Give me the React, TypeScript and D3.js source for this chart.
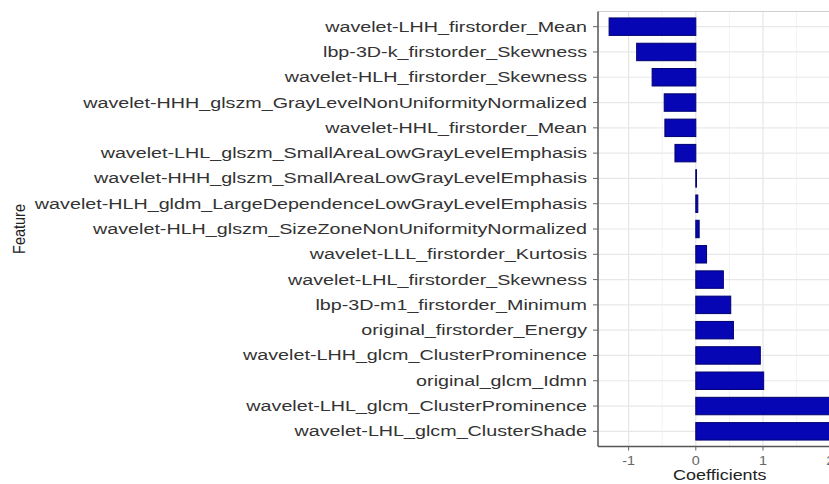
import React from "react";
import * as d3 from "d3";

const features = [
  "wavelet-LHH_firstorder_Mean",
  "lbp-3D-k_firstorder_Skewness",
  "wavelet-HLH_firstorder_Skewness",
  "wavelet-HHH_glszm_GrayLevelNonUniformityNormalized",
  "wavelet-HHL_firstorder_Mean",
  "wavelet-LHL_glszm_SmallAreaLowGrayLevelEmphasis",
  "wavelet-HHH_glszm_SmallAreaLowGrayLevelEmphasis",
  "wavelet-HLH_gldm_LargeDependenceLowGrayLevelEmphasis",
  "wavelet-HLH_glszm_SizeZoneNonUniformityNormalized",
  "wavelet-LLL_firstorder_Kurtosis",
  "wavelet-LHL_firstorder_Skewness",
  "lbp-3D-m1_firstorder_Minimum",
  "original_firstorder_Energy",
  "wavelet-LHH_glcm_ClusterProminence",
  "original_glcm_Idmn",
  "wavelet-LHL_glcm_ClusterProminence",
  "wavelet-LHL_glcm_ClusterShade",
];

const coefficients = [
  -1.29, -0.88, -0.65, -0.47, -0.46, -0.31, 0.01, 0.03, 0.05, 0.16, 0.41,
  0.52, 0.56, 0.96, 1.01, 2.4, 2.6,
];

const xTicks = [-1, 0, 1, 2];
const xMinor = [-0.5, 0.5, 1.5];

const W = 829;
const H = 484;

export default function App() {
  const panelLeft = 598;
  const panelTop = 11.5;
  const panelBottom = 446.5;
  const panelRight = 900;
  const zeroX = 695.8;
  const unit = 67.2;

  const x = d3
    .scaleLinear()
    .domain([0, 1])
    .range([zeroX, zeroX + unit]);

  const y = d3
    .scaleBand<string>()
    .domain(features)
    .range([panelTop, panelBottom])
    .paddingOuter(0.1)
    .paddingInner(0);

  const band = y.bandwidth();
  const barH = band * 0.69;
  const sx = 1.36;
  const font = "'Liberation Sans', Arial, Helvetica, sans-serif";

  return (
    <svg
      width={W}
      height={H}
      style={{ position: "absolute", left: 0, top: 0, background: "#fff" }}
      fontFamily={font}
    >
      <defs>
        <clipPath id="panel">
          <rect x={panelLeft} y={panelTop} width={panelRight - panelLeft} height={panelBottom - panelTop} />
        </clipPath>
      </defs>
      <rect x={panelLeft} y={panelTop} width={panelRight - panelLeft} height={panelBottom - panelTop} fill="#fff" />
      {xMinor.map((v) => (
        <line key={"m" + v} x1={x(v)} x2={x(v)} y1={panelTop} y2={panelBottom} stroke="#f3f3f3" strokeWidth={1} />
      ))}
      {xTicks.map((v) => (
        <line key={"g" + v} x1={x(v)} x2={x(v)} y1={panelTop} y2={panelBottom} stroke="#e6e6e6" strokeWidth={1.2} />
      ))}
      {features.map((f) => (
        <line
          key={"h" + f}
          x1={panelLeft}
          x2={panelRight}
          y1={(y(f) as number) + band / 2}
          y2={(y(f) as number) + band / 2}
          stroke="#e8e8e8"
          strokeWidth={1.2}
        />
      ))}
      <g clipPath="url(#panel)">
        {features.map((f, i) => {
          const v = coefficients[i];
          const x0 = x(Math.min(0, v));
          const x1 = x(Math.max(0, v));
          const cy = (y(f) as number) + band / 2;
          return (
            <rect
              key={"b" + f}
              x={x0}
              y={cy - barH / 2}
              width={Math.max(0.5, x1 - x0)}
              height={barH}
              fill="#0606b4"
              stroke="#00006e"
              strokeWidth={1}
            />
          );
        })}
      </g>
      <line x1={panelLeft} x2={panelRight} y1={panelTop} y2={panelTop} stroke="#cfcfcf" strokeWidth={1.2} />
      <line x1={panelLeft} x2={panelLeft} y1={panelTop} y2={panelBottom} stroke="#555" strokeWidth={1.5} />
      <line x1={panelLeft} x2={panelRight} y1={panelBottom} y2={panelBottom} stroke="#555" strokeWidth={1.5} />
      {features.map((f) => {
        const cy = (y(f) as number) + band / 2;
        return (
          <g key={"yl" + f}>
            <line x1={panelLeft - 5} x2={panelLeft} y1={cy} y2={cy} stroke="#666" strokeWidth={1} />
            <g transform={`translate(${panelLeft - 11},${cy}) scale(${sx},1)`}>
              <text textAnchor="end" dominantBaseline="central" fontSize={14.5} fill="#333">
                {f}
              </text>
            </g>
          </g>
        );
      })}
      {xTicks.map((v) => (
        <g key={"xt" + v}>
          <line x1={x(v)} x2={x(v)} y1={panelBottom} y2={panelBottom + 4} stroke="#666" strokeWidth={1} />
          <g transform={`translate(${x(v)},${panelBottom + 14}) scale(1.2,1)`}>
            <text textAnchor="middle" dominantBaseline="central" fontSize={12} fill="#666">
              {v}
            </text>
          </g>
        </g>
      ))}
      <g transform={`translate(${zeroX + 24},475) scale(1.24,1)`}>
        <text textAnchor="middle" dominantBaseline="central" fontSize={14.5} fill="#222">
          Coefficients
        </text>
      </g>
      <g transform={`translate(19,229) scale(1.2,1) rotate(-90)`}>
        <text textAnchor="middle" dominantBaseline="central" fontSize={14.5} fill="#222">
          Feature
        </text>
      </g>
    </svg>
  );
}
